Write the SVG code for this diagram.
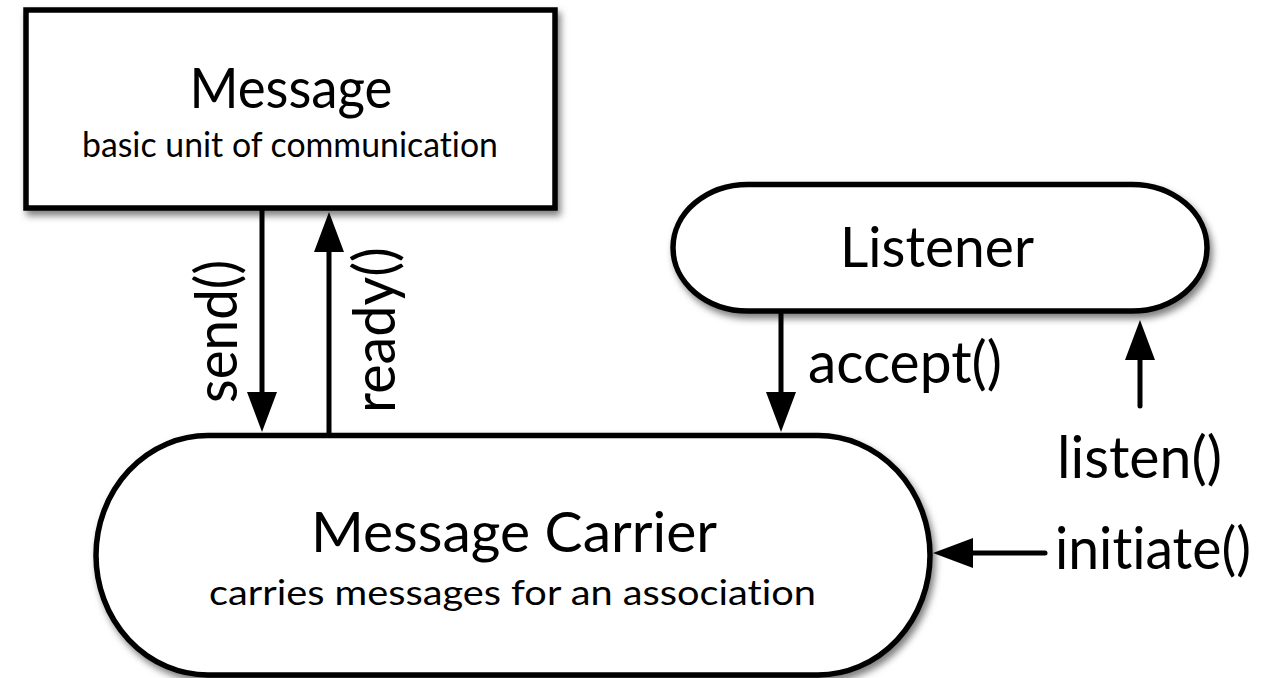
<svg xmlns="http://www.w3.org/2000/svg" width="1282" height="678" viewBox="0 0 1282 678">
  <style>
    text { font-family: Lato, "Open Sans", sans-serif; fill: #000000; font-variant-ligatures: none; font-feature-settings: "liga" 0, "clig" 0, "dlig" 0; }
    .shape { fill: #ffffff; stroke: #000000; stroke-width: 5.5; filter: url(#shadow); }
    .title { font-size: 57px; text-anchor: middle; }
    .sub { font-size: 35px; text-anchor: middle; }
    .label { font-size: 59px; }
    .wire { fill: none; stroke: #000000; stroke-width: 5; marker-end: url(#head); }
    .wire.round { stroke-linecap: round; }
  </style>
  <defs>
    <filter id="shadow" x="-10%" y="-10%" width="125%" height="130%">
      <feDropShadow dx="3" dy="5" stdDeviation="3.5" flood-color="#000000" flood-opacity="0.5"/>
    </filter>
    <marker id="head" markerUnits="userSpaceOnUse" markerWidth="40" markerHeight="30" viewBox="0 0 40 30" refX="20" refY="15" orient="auto">
      <path d="M0,0 L40,15 L0,30 Z" fill="#000000"/>
    </marker>
  </defs>

  <rect width="1282" height="678" fill="#ffffff"/>

  <!-- connectors -->
  <g id="connectors">
    <!-- send(): Message -> Message Carrier -->
    <line class="wire" x1="262" y1="210" x2="262" y2="412"/>
    <!-- ready(): Message Carrier -> Message -->
    <line class="wire" x1="329" y1="434" x2="329" y2="232"/>
    <!-- accept(): Listener -> Message Carrier -->
    <line class="wire" x1="781" y1="313" x2="781" y2="412"/>
    <!-- listen(): into Listener -->
    <line class="wire round" x1="1140" y1="406" x2="1140" y2="340"/>
    <!-- initiate(): into Message Carrier -->
    <line class="wire round" x1="1045" y1="553" x2="953" y2="553"/>

    <text class="label" transform="translate(237,403) rotate(-90)" textLength="143" lengthAdjust="spacingAndGlyphs">send()</text>
    <text class="label" transform="translate(395,413) rotate(-90)" textLength="166" lengthAdjust="spacingAndGlyphs">ready()</text>
    <text class="label" x="808" y="383" textLength="194" lengthAdjust="spacingAndGlyphs">accept()</text>
    <text class="label" x="1057" y="478" textLength="165" lengthAdjust="spacingAndGlyphs">listen()</text>
    <text class="label" x="1055" y="569" textLength="196" lengthAdjust="spacingAndGlyphs">initiate()</text>
  </g>

  <!-- Message node -->
  <g id="message">
    <rect class="shape" x="26" y="10" width="529" height="198"/>
    <text class="title" x="291" y="108" textLength="203" lengthAdjust="spacingAndGlyphs">Message</text>
    <text class="sub" x="290" y="157" textLength="416" lengthAdjust="spacingAndGlyphs">basic unit of communication</text>
  </g>

  <!-- Listener node -->
  <g id="listener">
    <rect class="shape" x="673" y="184.5" width="534" height="126.5" rx="75" ry="63"/>
    <text class="title" x="937" y="267" textLength="194" lengthAdjust="spacingAndGlyphs">Listener</text>
  </g>

  <!-- Message Carrier node -->
  <g id="message-carrier">
    <rect class="shape" x="96" y="435.5" width="834" height="239.5" rx="112" ry="120"/>
    <text class="title" x="514" y="552" textLength="406" lengthAdjust="spacingAndGlyphs">Message Carrier</text>
    <text class="sub" x="512.5" y="605" textLength="607" lengthAdjust="spacingAndGlyphs">carries messages for an association</text>
  </g>
</svg>
